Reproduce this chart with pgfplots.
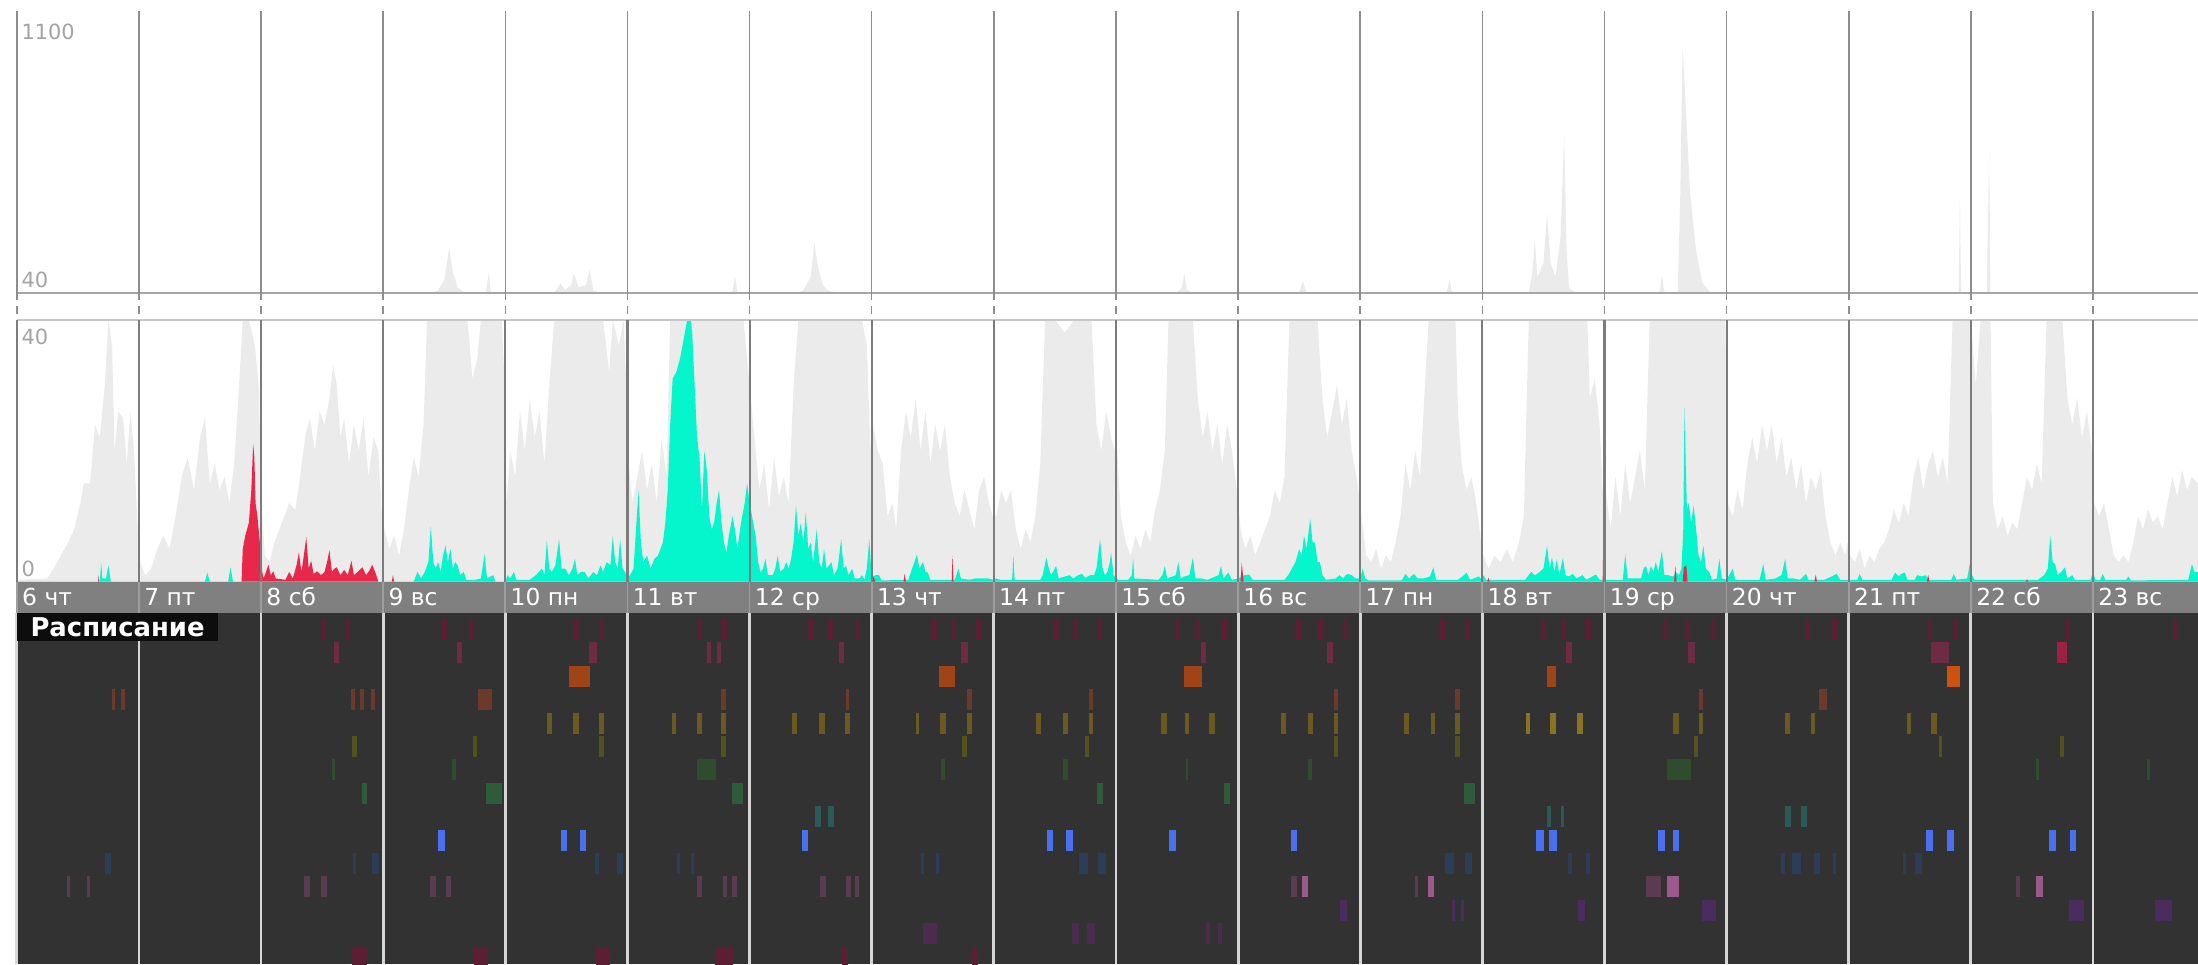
\documentclass[border=0pt]{standalone}
\usepackage{fontspec}
\setmainfont{DejaVu Sans}
\usepackage{pgfplots}
\usepackage{pgfplotstable}
\pgfplotsset{compat=1.18}

\definecolor{grayfill}{HTML}{EBEBEB}
\definecolor{cyanfill}{HTML}{05F5CD}
\definecolor{redfill}{HTML}{E8284A}
\definecolor{toplines}{HTML}{8E8E8E}
\definecolor{midlines}{HTML}{7C7C7C}
\definecolor{daybar}{HTML}{808080}
\definecolor{sched}{HTML}{323232}
\definecolor{schedlines}{HTML}{D6D6D6}
\definecolor{lbl}{HTML}{A3A3A3}
\definecolor{r1}{HTML}{5C1E33}
\definecolor{r2}{HTML}{6E2C44}
\definecolor{r2b}{HTML}{9E2042}
\definecolor{r3}{HTML}{A04418}
\definecolor{r3b}{HTML}{CC520E}
\definecolor{r4}{HTML}{6B3A28}
\definecolor{r5}{HTML}{6B5A20}
\definecolor{r5b}{HTML}{8A7422}
\definecolor{r6}{HTML}{52521E}
\definecolor{r7}{HTML}{2F4D2E}
\definecolor{r8}{HTML}{2E5B3A}
\definecolor{r9}{HTML}{295A55}
\definecolor{r10}{HTML}{4A70EE}
\definecolor{r11}{HTML}{2B3D58}
\definecolor{r12}{HTML}{5A3B4F}
\definecolor{r12b}{HTML}{9C5A8C}
\definecolor{r13}{HTML}{4A2D5E}
\definecolor{r14}{HTML}{4D2B4F}
\definecolor{r15}{HTML}{5C1E33}

\pgfplotsset{
  strip/.style={scale only axis, anchor=south west, width=311.2mm,
    xmin=0, xmax=17.86, xtick={0,...,17}, xticklabel={\relax}, ytick=\empty,
    major tick length=0pt, axis line style={draw=none},
    xmajorgrids, axis on top, clip mode=individual},
  slot/.style={draw=#1, line width=3mm, line cap=butt,
    unbounded coords=jump, mark=none},
}
\tikzset{
  panellbl/.style={inner sep=0pt, text=lbl, font=\fontsize{8.5}{10}\selectfont},
  daylbl/.style={anchor=base west, inner sep=0pt, text=white,
    font=\fontsize{9.5}{11}\selectfont},
}

\begin{document}

% total requests (light gray), values above 40 go to the upper strip
\pgfplotstableread{
x y
0.00 0.3
0.25 0.5
0.30 2
0.36 4
0.42 6
0.47 8
0.52 12
0.55 15
0.60 15
0.64 24
0.68 22
0.72 30
0.75 40
0.78 36
0.80 20
0.83 26
0.87 25
0.90 18
0.93 26
0.96 20
0.99 8
1.01 3
1.05 1
1.10 2
1.15 5
1.20 7
1.25 5
1.30 10
1.35 16
1.40 19
1.45 14
1.50 22
1.54 25
1.58 15
1.62 18
1.66 14
1.70 16
1.74 12
1.78 18
1.82 30
1.85 40
1.90 40
1.95 36
1.98 30
2.01 10
2.03 4
2.07 3
2.11 6
2.15 8
2.19 10
2.23 12
2.28 11
2.32 16
2.36 22
2.40 25
2.44 20
2.48 26
2.52 24
2.56 28
2.59 33
2.62 30
2.65 22
2.68 25
2.72 18
2.76 24
2.80 20
2.84 25
2.88 16
2.92 22
2.96 20
2.99 10
3.01 8
3.05 5
3.09 7
3.13 4
3.17 8
3.21 14
3.25 19
3.29 16
3.33 24
3.36 40
3.40 42
3.45 50
3.50 90
3.54 208
3.57 120
3.61 60
3.66 45
3.70 38
3.73 31
3.77 34
3.80 40
3.84 45
3.865 115
3.88 45
3.93 42
3.97 40
3.995 30
4.01 12
4.04 20
4.08 16
4.12 26
4.16 20
4.20 28
4.24 22
4.28 26
4.32 18
4.36 30
4.40 40
4.43 60
4.45 77
4.49 50
4.54 70
4.56 115
4.60 60
4.66 70
4.69 127
4.72 50
4.76 42
4.80 40
4.85 32
4.88 40
4.93 36
4.97 40
4.99 30
5.01 18
5.04 12
5.08 16
5.12 20
5.16 14
5.20 18
5.24 12
5.28 22
5.32 16
5.35 40
5.45 42
5.55 40
5.65 40
5.72 40
5.80 42
5.86 45
5.88 102
5.90 45
5.95 40
6.00 30
6.04 22
6.08 14
6.12 18
6.16 11
6.20 19
6.24 13
6.28 16
6.32 12
6.36 30
6.40 40
6.44 50
6.50 100
6.53 227
6.56 140
6.60 70
6.64 50
6.68 45
6.75 42
6.82 40
6.90 42
6.96 36
6.99 20
7.01 24
7.05 20
7.09 18
7.13 10
7.17 12
7.20 8
7.24 20
7.28 26
7.32 22
7.36 28
7.40 20
7.44 26
7.48 18
7.52 24
7.56 20
7.60 24
7.64 16
7.68 12
7.72 10
7.76 14
7.80 11
7.84 8
7.88 14
7.92 16
7.96 12
7.99 10
8.02 10
8.06 14
8.10 12
8.14 14
8.18 8
8.22 5
8.26 8
8.30 6
8.34 10
8.38 18
8.42 40
8.50 40
8.58 38
8.66 40
8.74 40
8.80 40
8.84 24
8.88 20
8.92 26
8.96 22
8.99 20
9.01 20
9.04 10
9.08 6
9.12 4
9.16 7
9.20 5
9.24 8
9.28 6
9.32 11
9.36 14
9.40 20
9.43 40
9.50 42
9.54 60
9.56 115
9.58 50
9.63 40
9.67 28
9.71 22
9.75 26
9.79 20
9.83 24
9.87 18
9.91 24
9.95 20
9.99 14
10.02 8
10.06 5
10.10 7
10.14 4
10.18 6
10.22 8
10.26 10
10.30 14
10.34 12
10.38 16
10.42 40
10.50 42
10.53 84
10.56 42
10.65 40
10.69 28
10.73 22
10.77 26
10.81 30
10.85 24
10.89 28
10.93 20
10.97 16
11.01 10
11.05 4
11.09 3
11.13 5
11.17 2
11.21 4
11.25 3
11.29 6
11.33 10
11.37 18
11.41 14
11.45 20
11.49 16
11.53 30
11.56 40
11.65 40
11.71 45
11.73 90
11.75 45
11.78 40
11.80 26
11.83 18
11.87 14
11.91 16
11.95 12
11.99 6
12.01 4
12.05 2
12.10 4
12.15 3
12.20 5
12.25 3
12.30 6
12.34 10
12.38 40
12.41 120
12.43 240
12.45 100
12.50 150
12.53 339
12.56 150
12.60 100
12.64 250
12.67 639
12.69 200
12.71 60
12.76 42
12.86 40
12.88 28
12.92 31
12.96 24
12.99 12
13.01 14
13.05 8
13.09 16
13.13 10
13.17 18
13.21 12
13.25 16
13.29 20
13.33 14
13.37 40
13.45 45
13.47 102
13.49 45
13.56 42
13.60 45
13.62 400
13.64 975
13.67 700
13.70 420
13.75 200
13.80 80
13.86 45
13.92 40
13.99 40
14.01 12
14.05 10
14.09 14
14.13 11
14.17 18
14.21 22
14.25 18
14.29 24
14.33 20
14.37 24
14.41 18
14.45 22
14.49 16
14.53 19
14.57 14
14.61 18
14.65 12
14.69 16
14.73 14
14.77 17
14.81 10
14.85 6
14.89 4
14.93 6
14.97 4
14.99 6
15.01 4
15.05 3
15.09 5
15.13 2
15.17 4
15.21 3
15.25 5
15.29 6
15.33 8
15.37 11
15.41 9
15.45 12
15.49 10
15.53 16
15.57 19
15.61 14
15.65 18
15.69 20
15.73 16
15.77 19
15.81 15
15.85 40
15.90 45
15.91 389
15.92 45
15.97 40
16.00 40
16.04 30
16.08 40
16.13 42
16.15 589
16.16 42
16.18 12
16.22 8
16.26 10
16.30 7
16.34 9
16.38 8
16.42 12
16.46 16
16.50 14
16.54 18
16.58 15
16.62 40
16.75 40
16.79 28
16.83 24
16.87 28
16.91 22
16.95 26
16.99 20
17.01 12
17.05 10
17.09 12
17.13 8
17.17 4
17.21 3
17.25 4
17.29 3
17.33 6
17.37 10
17.41 8
17.45 11
17.49 9
17.53 10
17.57 8
17.61 12
17.65 16
17.69 13
17.73 17
17.77 14
17.81 16
17.86 15
}\graydata

% successful requests (cyan)
\pgfplotstableread{
x y
0.00 0
0.68 0
0.69 3
0.70 0.5
0.73 0.5
0.75 2.5
0.77 0
1.54 0
1.56 1.4
1.58 0
1.73 0
1.75 2.2
1.77 0
3.25 0
3.28 1.5
3.31 0.5
3.34 1.5
3.37 3
3.39 8.5
3.41 3
3.43 2
3.45 3
3.47 1.5
3.49 4
3.51 5.5
3.53 3
3.55 5
3.57 2
3.59 3
3.61 2.5
3.63 1
3.66 1.5
3.68 0.3
3.75 0.3
3.80 0.5
3.83 4.2
3.85 0.5
3.90 1
3.92 0
4.00 0
4.02 1
4.04 0.5
4.07 1.5
4.09 0.3
4.20 0.3
4.25 1
4.30 2
4.32 1
4.34 6.3
4.36 2
4.38 1.5
4.41 2.5
4.44 6.5
4.46 2
4.49 2
4.52 1
4.55 2
4.57 3.5
4.59 1
4.62 1.5
4.65 1.5
4.68 0.5
4.72 1.5
4.75 1
4.78 2.5
4.80 1.5
4.83 3
4.86 2.5
4.88 7
4.90 3
4.92 2
4.94 6.5
4.96 2
4.98 1.5
5.00 0.5
5.02 1
5.05 2
5.07 8
5.09 14
5.11 6
5.13 3
5.16 4
5.19 2
5.22 3.5
5.25 4
5.27 5
5.29 6
5.31 9
5.33 14
5.35 24
5.37 31
5.40 32
5.43 34
5.46 37
5.49 40
5.51 41
5.53 38
5.55 30
5.57 22
5.59 19
5.61 11
5.63 20
5.65 17
5.67 10
5.69 8
5.71 9
5.73 12
5.75 14
5.77 9
5.79 6
5.81 4.5
5.83 7
5.86 10
5.88 8
5.90 5
5.93 9
5.96 12
5.98 15
6.00 12
6.02 10
6.05 7
6.07 3
6.09 1.4
6.11 2
6.13 3.5
6.15 1
6.19 1
6.21 2
6.23 4
6.25 1.5
6.28 2
6.30 3
6.32 2
6.34 3.5
6.36 6
6.38 11.6
6.40 7
6.42 9
6.44 6
6.46 10.6
6.48 5
6.50 6
6.52 3
6.55 8
6.57 3
6.59 2
6.61 5
6.63 2
6.67 3
6.69 1
6.72 2
6.75 6.5
6.77 2
6.79 2.4
6.81 1
6.84 2
6.86 0.5
6.90 0.5
6.92 1
6.94 0.3
6.96 2
6.98 6.5
7.00 0.5
7.03 1
7.06 1
7.08 0.2
7.30 0.3
7.33 2
7.35 3
7.37 4.2
7.39 2
7.42 3
7.44 1.5
7.46 1.4
7.48 0.3
7.68 0.3
7.71 2
7.73 0.5
7.80 0.3
7.85 0.5
7.89 0.5
7.95 0.5
8.00 0.3
8.02 0.5
8.05 0.3
8.15 0.3
8.16 4
8.17 0.3
8.38 0.3
8.40 1
8.43 3.7
8.45 2
8.47 1
8.51 2.4
8.53 0.5
8.58 0.8
8.62 1
8.65 0.5
8.69 1
8.72 1.2
8.75 0.6
8.79 1
8.82 1
8.84 2
8.87 6.5
8.89 2
8.91 1
8.93 1.5
8.95 3
8.96 4.5
8.98 1
9.00 0.5
9.02 0.3
9.10 0.3
9.13 1
9.14 3.7
9.15 0.5
9.35 0.3
9.38 1
9.40 2.4
9.42 0.5
9.49 1
9.51 3
9.53 0.5
9.56 0.8
9.60 1
9.63 3.7
9.65 0.5
9.70 0.5
9.75 0.3
9.84 1
9.86 2.4
9.88 0.5
9.92 1.4
9.95 0.3
10.00 0.5
10.05 1
10.09 1.1
10.12 0.3
10.38 0.3
10.41 1
10.44 2
10.47 3
10.50 5
10.52 4
10.54 7
10.56 5
10.59 9.6
10.61 6
10.63 6
10.65 3
10.67 3
10.69 1
10.72 0.3
10.80 0.5
10.83 1
10.86 0.5
10.88 1
10.90 1.2
10.93 1
10.96 0.5
11.00 0.5
11.02 2
11.04 0.5
11.07 0.2
11.34 0.2
11.37 1.2
11.40 0.5
11.44 1.2
11.47 0.5
11.52 0.5
11.57 0.8
11.60 2.2
11.62 0.3
11.80 0.3
11.85 1
11.87 1.4
11.90 0.3
11.97 0.8
12.00 0.3
12.01 1
12.03 0.3
12.35 0.3
12.40 1.5
12.43 1
12.47 1.5
12.50 2
12.53 5.5
12.55 2
12.57 3.7
12.59 1.5
12.61 3.5
12.63 1
12.66 3.7
12.68 1
12.71 0.8
12.74 1.2
12.77 0.5
12.82 1
12.85 0.3
12.93 1.1
12.96 0.3
13.00 0.3
13.15 0.3
13.17 4.2
13.19 0.5
13.30 0.5
13.32 2
13.34 2.4
13.36 1
13.38 2.4
13.40 1.5
13.42 3
13.44 1.5
13.47 4.7
13.49 1
13.52 1
13.56 0.8
13.59 1.4
13.61 1
13.63 2
13.645 8
13.655 26.6
13.665 18
13.675 11
13.69 12
13.71 9
13.73 11.6
13.75 8
13.77 4
13.79 3
13.81 5.5
13.83 2
13.86 1.4
13.88 0.3
13.92 0.5
13.94 3.5
13.96 0.5
14.00 0.3
14.05 2
14.07 0.3
14.27 0.3
14.30 2.7
14.32 0.3
14.40 0.5
14.45 1
14.48 3.5
14.50 0.5
14.55 0.5
14.60 0.3
14.65 1.2
14.67 0.3
14.80 0.3
14.86 0.8
14.90 1.2
14.93 0.3
15.07 0.3
15.09 1.2
15.11 0.3
15.35 0.3
15.38 1.4
15.41 0.8
15.43 1.2
15.46 1.4
15.48 0.3
15.54 0.3
15.56 1
15.60 0.8
15.63 1
15.65 0.3
15.84 0.3
15.86 1.2
15.88 0.3
15.97 0.5
15.99 2.7
16.01 1
16.03 0.3
16.55 0.3
16.60 1
16.63 2
16.65 7
16.67 3
16.69 2.7
16.71 1
16.74 1.5
16.77 2.2
16.79 0.5
16.83 1
16.85 0.3
16.98 0.3
17.00 1.5
17.02 0.3
17.06 0.3
17.08 1.2
17.10 0.3
17.27 0.3
17.29 0.8
17.31 0.2
17.78 0.3
17.81 2.7
17.83 1.5
17.86 1.5
}\cyandata

% errors (red)
\pgfplotstableread{
x y
0.00 0
0.665 0
0.67 1
0.675 0
1.84 0
1.85 5
1.87 7
1.90 9
1.92 14
1.935 21
1.945 19
1.955 12
1.97 10
1.99 6
2.005 2
2.02 0.5
2.04 1.5
2.06 2.6
2.08 1
2.10 1.6
2.12 0.5
2.20 0.3
2.23 1.5
2.26 0.5
2.29 2.5
2.31 4.5
2.33 1.5
2.35 4
2.37 6.8
2.39 2
2.41 3.2
2.43 1.2
2.46 1.6
2.49 1
2.52 1.5
2.54 3
2.56 4.8
2.58 1.5
2.60 2
2.62 2.2
2.65 1
2.68 1.8
2.71 1
2.74 3.2
2.76 1
2.79 1.5
2.83 2.2
2.86 1
2.89 1.8
2.91 2.6
2.94 1.2
2.96 0
3.07 0
3.08 1
3.09 0
6.995 0
7.00 3.5
7.01 1
7.03 0
7.26 0
7.27 1.2
7.28 0
7.655 0
7.66 4
7.67 0
10.02 0
10.03 2.9
10.045 0
12.04 0
12.05 0.6
12.06 0
12.985 0
12.99 6
13.00 1
13.01 0
13.57 0
13.58 2.4
13.59 0
13.64 0
13.65 2.2
13.67 2.5
13.68 0
14.72 0
14.73 1.1
14.74 0
15.64 0
15.65 1.1
15.66 0
16.45 0
16.46 0.4
16.47 0
17.86 0
}\reddata

\begin{tikzpicture}
\useasboundingbox (0,0) rectangle (313.6mm,137.6mm);

% upper strip: 40 .. 1100
\begin{axis}[strip, at={(2.4mm,95.8mm)}, height=40.2mm, ymin=40, ymax=1100,
  grid style={toplines, line width=0.22mm},
  xtick pos=bottom, tick align=outside, major tick length=3.8mm,
  xtick style={draw=toplines, line width=0.22mm,
    dash pattern=on 1.2mm off 0.8mm, dash phase=1.2mm}]
\addplot[fill=grayfill, draw=none] table {\graydata} \closedcycle;
\draw[color=black!35, line width=0.3mm] (rel axis cs:0,0) -- (rel axis cs:1,0);
\node[panellbl, anchor=north west, xshift=0.6mm, yshift=-1.8mm] at (rel axis cs:0,1) {1100};
\node[panellbl, anchor=south west, xshift=0.6mm, yshift=0.6mm] at (rel axis cs:0,0) {40};
\end{axis}

% lower strip: 0 .. 40
\begin{axis}[strip, at={(2.4mm,54.6mm)}, height=37.4mm, ymin=0, ymax=40,
  grid style={midlines, line width=0.3mm}]
\addplot[fill=grayfill, draw=none] table {\graydata} \closedcycle;
\addplot[fill=cyanfill, draw=none] table {\cyandata} \closedcycle;
\addplot[fill=redfill, draw=none] table {\reddata} \closedcycle;
\draw[color=black!22, line width=0.3mm] (rel axis cs:0,1) -- (rel axis cs:1,1);
\node[panellbl, anchor=north west, xshift=0.6mm, yshift=-1.2mm] at (rel axis cs:0,1) {40};
\node[panellbl, anchor=south west, xshift=0.6mm, yshift=0.7mm] at (rel axis cs:0,0) {0};
\end{axis}

% day bar
\begin{axis}[strip, at={(2.4mm,50.2mm)}, height=4.4mm, ymin=0, ymax=1,
  axis background/.style={fill=daybar},
  grid style={black!38, line width=0.25mm}]
\node[daylbl] at (axis cs:0.04,0.23) {6 чт};
\node[daylbl] at (axis cs:1.04,0.23) {7 пт};
\node[daylbl] at (axis cs:2.04,0.23) {8 сб};
\node[daylbl] at (axis cs:3.04,0.23) {9 вс};
\node[daylbl] at (axis cs:4.04,0.23) {10 пн};
\node[daylbl] at (axis cs:5.04,0.23) {11 вт};
\node[daylbl] at (axis cs:6.04,0.23) {12 ср};
\node[daylbl] at (axis cs:7.04,0.23) {13 чт};
\node[daylbl] at (axis cs:8.04,0.23) {14 пт};
\node[daylbl] at (axis cs:9.04,0.23) {15 сб};
\node[daylbl] at (axis cs:10.04,0.23) {16 вс};
\node[daylbl] at (axis cs:11.04,0.23) {17 пн};
\node[daylbl] at (axis cs:12.04,0.23) {18 вт};
\node[daylbl] at (axis cs:13.04,0.23) {19 ср};
\node[daylbl] at (axis cs:14.04,0.23) {20 чт};
\node[daylbl] at (axis cs:15.04,0.23) {21 пт};
\node[daylbl] at (axis cs:16.04,0.23) {22 сб};
\node[daylbl] at (axis cs:17.04,0.23) {23 вс};
\end{axis}

% schedule
\begin{axis}[strip, at={(2.4mm,0mm)}, height=50.2mm, ymin=0.28, ymax=15.31,
  y dir=reverse, axis background/.style={fill=sched},
  grid style={schedlines, line width=0.4mm}]
\addplot[slot=r1] coordinates {(2.494,1)(2.534,1)(nan,1)(2.689,1)(2.729,1)(nan,1)(3.481,1)(3.521,1)(nan,1)(3.699,1)(3.739,1)(nan,1)(4.560,1)(4.600,1)(nan,1)(4.767,1)(4.807,1)(nan,1)(5.570,1)(5.610,1)(nan,1)(5.777,1)(5.817,1)(nan,1)(6.477,1)(6.517,1)(nan,1)(6.643,1)(6.683,1)(nan,1)(6.861,1)(6.901,1)(nan,1)(7.491,1)(7.531,1)(nan,1)(7.646,1)(7.686,1)(nan,1)(7.855,1)(7.895,1)(nan,1)(8.490,1)(8.530,1)(nan,1)(8.650,1)(8.690,1)(nan,1)(8.849,1)(8.889,1)(nan,1)(9.484,1)(9.524,1)(nan,1)(9.652,1)(9.692,1)(nan,1)(9.870,1)(9.910,1)(nan,1)(10.476,1)(10.516,1)(nan,1)(10.655,1)(10.695,1)(nan,1)(10.856,1)(10.896,1)(nan,1)(11.650,1)(11.690,1)(nan,1)(11.854,1)(11.894,1)(nan,1)(12.480,1)(12.520,1)(nan,1)(12.641,1)(12.681,1)(nan,1)(12.848,1)(12.888,1)(nan,1)(13.481,1)(13.521,1)(nan,1)(13.657,1)(13.697,1)(nan,1)(13.868,1)(13.908,1)(nan,1)(14.640,1)(14.680,1)(nan,1)(14.866,1)(14.906,1)(nan,1)(15.642,1)(15.682,1)(nan,1)(15.851,1)(15.891,1)(nan,1)(16.773,1)(16.813,1)(nan,1)(17.657,1)(17.697,1)};
\addplot[slot=r2] coordinates {(2.597,2)(2.637,2)(nan,2)(3.607,2)(3.647,2)(nan,2)(4.688,2)(4.748,2)(nan,2)(5.655,2)(5.685,2)(nan,2)(5.736,2)(5.766,2)(nan,2)(6.736,2)(6.776,2)(nan,2)(7.735,2)(7.785,2)(nan,2)(9.694,2)(9.734,2)(nan,2)(10.726,2)(10.776,2)(nan,2)(12.682,2)(12.732,2)(nan,2)(13.687,2)(13.737,2)(nan,2)(15.674,2)(15.820,2)};
\addplot[slot=r2b] coordinates {(16.705,2)(16.785,2)};
\addplot[slot=r3] coordinates {(4.523,3)(4.695,3)(nan,3)(7.547,3)(7.685,3)(nan,3)(9.557,3)(9.703,3)(nan,3)(12.532,3)(12.606,3)};
\addplot[slot=r3b] coordinates {(15.801,3)(15.911,3)};
\addplot[slot=r4] coordinates {(0.777,4)(0.807,4)(nan,4)(0.857,4)(0.887,4)(nan,4)(2.740,4)(2.770,4)(nan,4)(2.809,4)(2.839,4)(nan,4)(2.901,4)(2.931,4)(nan,4)(3.776,4)(3.891,4)(nan,4)(5.765,4)(5.805,4)(nan,4)(6.787,4)(6.817,4)(nan,4)(7.779,4)(7.823,4)(nan,4)(8.780,4)(8.810,4)(nan,4)(10.786,4)(10.816,4)(nan,4)(11.773,4)(11.817,4)(nan,4)(13.777,4)(13.807,4)(nan,4)(14.758,4)(14.818,4)};
\addplot[slot=r5] coordinates {(4.340,5)(4.384,5)(nan,5)(4.558,5)(4.602,5)(nan,5)(4.765,5)(4.809,5)(nan,5)(5.368,5)(5.398,5)(nan,5)(5.568,5)(5.612,5)(nan,5)(5.763,5)(5.807,5)(nan,5)(6.348,5)(6.392,5)(nan,5)(6.571,5)(6.615,5)(nan,5)(6.780,5)(6.824,5)(nan,5)(7.359,5)(7.389,5)(nan,5)(7.561,5)(7.605,5)(nan,5)(7.779,5)(7.823,5)(nan,5)(8.342,5)(8.386,5)(nan,5)(8.564,5)(8.608,5)(nan,5)(8.780,5)(8.810,5)(nan,5)(9.371,5)(9.415,5)(nan,5)(9.565,5)(9.595,5)(nan,5)(9.763,5)(9.807,5)(nan,5)(10.352,5)(10.396,5)(nan,5)(10.569,5)(10.613,5)(nan,5)(10.785,5)(10.815,5)(nan,5)(11.355,5)(11.399,5)(nan,5)(11.579,5)(11.609,5)(nan,5)(11.773,5)(11.817,5)(nan,5)(13.563,5)(13.607,5)(nan,5)(13.777,5)(13.807,5)(nan,5)(14.477,5)(14.521,5)(nan,5)(14.693,5)(14.723,5)(nan,5)(15.476,5)(15.506,5)(nan,5)(15.677,5)(15.721,5)};
\addplot[slot=r5b] coordinates {(12.361,5)(12.391,5)(nan,5)(12.551,5)(12.601,5)(nan,5)(12.777,5)(12.827,5)};
\addplot[slot=r6] coordinates {(2.748,6)(2.784,6)(nan,6)(3.735,6)(3.771,6)(nan,6)(4.769,6)(4.805,6)(nan,6)(5.767,6)(5.803,6)(nan,6)(7.742,6)(7.778,6)(nan,6)(8.747,6)(8.783,6)(nan,6)(10.788,6)(10.814,6)(nan,6)(11.777,6)(11.813,6)(nan,6)(13.736,6)(13.762,6)(nan,6)(15.741,6)(15.767,6)(nan,6)(16.729,6)(16.765,6)};
\addplot[slot=r7] coordinates {(2.579,7)(2.609,7)(nan,7)(3.563,7)(3.599,7)(nan,7)(5.567,7)(5.728,7)(nan,7)(7.565,7)(7.601,7)(nan,7)(8.568,7)(8.604,7)(nan,7)(9.570,7)(9.590,7)(nan,7)(10.573,7)(10.609,7)(nan,7)(13.512,7)(13.705,7)(nan,7)(16.532,7)(16.558,7)(nan,7)(17.443,7)(17.469,7)};
\addplot[slot=r8] coordinates {(2.827,8)(2.867,8)(nan,8)(3.845,8)(3.972,8)(nan,8)(5.854,8)(5.946,8)(nan,8)(8.847,8)(8.891,8)(nan,8)(9.885,8)(9.935,8)(nan,8)(11.850,8)(11.940,8)};
\addplot[slot=r9] coordinates {(6.534,9)(6.584,9)(nan,9)(6.638,9)(6.688,9)(nan,9)(12.531,9)(12.561,9)(nan,9)(12.641,9)(12.671,9)(nan,9)(14.474,9)(14.524,9)(nan,9)(14.610,9)(14.660,9)};
\addplot[slot=r10] coordinates {(3.450,10)(3.506,10)(nan,10)(4.452,10)(4.502,10)(nan,10)(4.612,10)(4.662,10)(nan,10)(6.429,10)(6.479,10)(nan,10)(8.435,10)(8.485,10)(nan,10)(8.594,10)(8.644,10)(nan,10)(9.435,10)(9.491,10)(nan,10)(10.429,10)(10.485,10)(nan,10)(12.442,10)(12.506,10)(nan,10)(12.544,10)(12.608,10)(nan,10)(13.436,10)(13.492,10)(nan,10)(13.557,10)(13.613,10)(nan,10)(15.634,10)(15.690,10)(nan,10)(15.806,10)(15.862,10)(nan,10)(16.638,10)(16.694,10)(nan,10)(16.808,10)(16.864,10)};
\addplot[slot=r11] coordinates {(0.724,11)(0.768,11)(nan,11)(2.754,11)(2.778,11)(nan,11)(2.908,11)(2.968,11)(nan,11)(4.734,11)(4.770,11)(nan,11)(4.911,11)(4.961,11)(nan,11)(5.403,11)(5.433,11)(nan,11)(5.521,11)(5.545,11)(nan,11)(7.403,11)(7.427,11)(nan,11)(7.529,11)(7.553,11)(nan,11)(8.697,11)(8.767,11)(nan,11)(8.852,11)(8.922,11)(nan,11)(11.694,11)(11.764,11)(nan,11)(11.857,11)(11.917,11)(nan,11)(12.700,11)(12.730,11)(nan,11)(12.852,11)(12.882,11)(nan,11)(14.445,11)(14.475,11)(nan,11)(14.535,11)(14.605,11)(nan,11)(14.716,11)(14.766,11)(nan,11)(14.874,11)(14.898,11)(nan,11)(15.443,11)(15.467,11)(nan,11)(15.542,11)(15.602,11)};
\addplot[slot=r12] coordinates {(0.413,12)(0.437,12)(nan,12)(0.573,12)(0.597,12)(nan,12)(2.354,12)(2.398,12)(nan,12)(2.492,12)(2.536,12)(nan,12)(3.387,12)(3.431,12)(nan,12)(3.513,12)(3.557,12)(nan,12)(5.572,12)(5.608,12)(nan,12)(5.779,12)(5.815,12)(nan,12)(5.859,12)(5.895,12)(nan,12)(6.579,12)(6.623,12)(nan,12)(6.792,12)(6.828,12)(nan,12)(6.863,12)(6.899,12)(nan,12)(10.435,12)(10.479,12)(nan,12)(11.448,12)(11.472,12)(nan,12)(13.340,12)(13.466,12)(nan,12)(16.366,12)(16.402,12)};
\addplot[slot=r12b] coordinates {(10.524,12)(10.574,12)(nan,12)(11.557,12)(11.607,12)(nan,12)(13.508,12)(13.612,12)(nan,12)(16.534,12)(16.594,12)};
\addplot[slot=r13] coordinates {(10.835,13)(10.891,13)(nan,13)(11.749,13)(11.773,13)(nan,13)(11.825,13)(11.849,13)(nan,13)(12.781,13)(12.837,13)(nan,13)(13.802,13)(13.916,13)(nan,13)(16.806,13)(16.926,13)(nan,13)(17.508,13)(17.646,13)};
\addplot[slot=r14] coordinates {(7.421,14)(7.535,14)(nan,14)(8.640,14)(8.700,14)(nan,14)(8.765,14)(8.825,14)(nan,14)(9.741,14)(9.771,14)(nan,14)(9.837,14)(9.867,14)};
\addplot[slot=r15] coordinates {(2.743,15)(2.870,15)(nan,15)(3.742,15)(3.857,15)(nan,15)(4.741,15)(4.855,15)(nan,15)(5.716,15)(5.866,15)(nan,15)(6.755,15)(6.805,15)(nan,15)(7.822,15)(7.872,15)};
\end{axis}

\node[fill=black!95, text=white, font=\bfseries\fontsize{10.5}{12}\selectfont,
  anchor=north west, inner sep=0pt, minimum width=28.6mm, minimum height=4mm]
  at (2.4mm,50.2mm) {Расписание};
\end{tikzpicture}
\end{document}
